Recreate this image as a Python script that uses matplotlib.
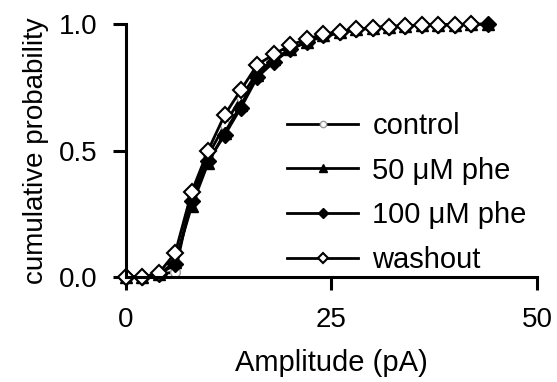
import matplotlib.pyplot as plt

plt.rcParams['font.family'] = ['Liberation Sans', 'DejaVu Sans']

amp = [0, 2, 4, 6, 8, 10, 12, 14, 16, 18, 20, 22, 24, 26, 28, 30, 32, 34, 36, 38, 40, 42, 44]

control = [0, 0, 0.01, 0.02, 0.32, 0.48, 0.60, 0.71, 0.81, 0.86, 0.90, 0.93, 0.95, 0.965, 0.975, 0.985, 0.99, 0.993, 0.995, 0.997, 0.998, 1.0]
phe50 = [0, 0, 0.01, 0.06, 0.28, 0.45, 0.57, 0.68, 0.80, 0.86, 0.90, 0.93, 0.955, 0.97, 0.98, 0.985, 0.99, 0.993, 0.995, 0.997, 0.998, 0.999, 1.0]
phe100 = [0, 0, 0.01, 0.05, 0.30, 0.46, 0.56, 0.67, 0.79, 0.85, 0.90, 0.93, 0.955, 0.97, 0.98, 0.985, 0.99, 0.993, 0.995, 0.997, 0.998, 0.999, 1.0]
washout = [0, 0, 0.015, 0.095, 0.336, 0.50, 0.64, 0.74, 0.84, 0.88, 0.917, 0.94, 0.96, 0.97, 0.98, 0.985, 0.99, 0.993, 0.995, 0.997, 0.998, 1.0]

fig = plt.figure(figsize=(5.57, 3.82), dpi=100)
ax = fig.add_axes([0.226, 0.275, 0.738, 0.662])

lw = 2.0
ax.plot(amp[:len(control)], control, '-o', color='black', lw=lw, ms=7,
        mfc='white', mec='#999999', mew=1, label='control')
ax.plot(amp[:len(phe50)], phe50, '-^', color='black', lw=lw, ms=8,
        mfc='black', mec='black', label='50 \u03bcM phe')
ax.plot(amp[:len(phe100)], phe100, '-D', color='black', lw=lw, ms=8,
        mfc='black', mec='black', label='100 \u03bcM phe')
ax.plot(amp[:len(washout)], washout, '-D', color='black', lw=lw, ms=8.5,
        mfc='white', mec='black', mew=1.5, label='washout')

ax.set_xlim(0, 50)
ax.set_ylim(0, 1)
ax.set_xticks([0, 25, 50])
ax.set_yticks([0, 0.5, 1.0])
ax.set_yticklabels(['0.0', '0.5', '1.0'])
ax.spines['top'].set_visible(False)
ax.spines['right'].set_visible(False)
for s in ['left', 'bottom']:
    ax.spines[s].set_linewidth(2.2)
ax.tick_params(direction='out', length=9.5, width=2.2, labelsize=20)
ax.tick_params(axis='y', pad=11)
ax.tick_params(axis='x', pad=12)
for line in ax.lines:
    line.set_clip_on(False)

ax.set_xlabel('Amplitude (pA)', fontsize=21, labelpad=12)
ax.set_ylabel('cumulative probability', fontsize=20, labelpad=7)

leg = ax.legend(loc='upper left', bbox_to_anchor=(287 / 557, 1 - 112 / 382),
                bbox_transform=fig.transFigure, borderaxespad=0, borderpad=0,
                frameon=False, fontsize=21, handlelength=2.45, handletextpad=0.48,
                labelspacing=0.57, markerscale=0.65)

fig.savefig('out.png', dpi=100)
